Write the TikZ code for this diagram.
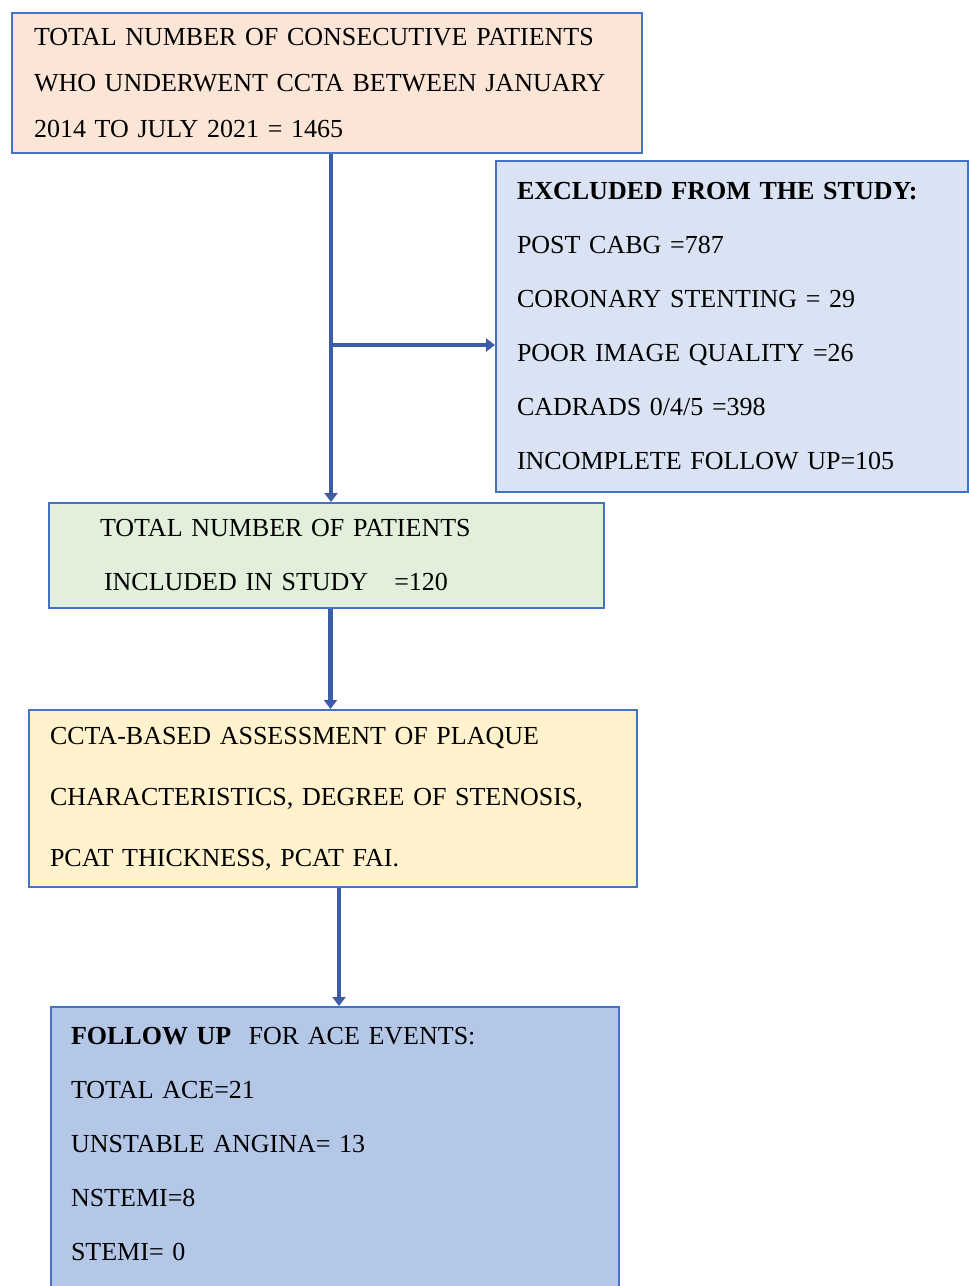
\documentclass[tikz,border=0pt]{standalone}
\usepackage{fontspec}
\setmainfont{Liberation Serif}
\usetikzlibrary{arrows.meta}
\definecolor{boxline}{HTML}{4472C4}
\definecolor{arrowblue}{HTML}{3A5DA6}
\definecolor{peach}{HTML}{FBE5D6}
\definecolor{paleblue}{HTML}{DAE3F3}
\definecolor{palegreen}{HTML}{E2EFDA}
\definecolor{paleyellow}{HTML}{FFF2CC}
\definecolor{midblue}{HTML}{B4C7E7}
\tikzstyle{box} = [rectangle, draw=boxline, line width=1pt, anchor=north west, align=left, inner ysep=2pt, font=\fontsize{13}{27}\selectfont]
\tikzstyle{flow} = [-{Triangle[width=6.5pt,length=4.5pt]}, draw=arrowblue, line width=2.4pt]

\begin{document}
\begin{tikzpicture}[x=1pt,y=1pt]
	\useasboundingbox (0,0) rectangle (484.5,-643);
	\clip (0,0) rectangle (484.5,-643);
	
	\node[box, fill=peach, minimum width=315pt, minimum height=70pt, inner xsep=11pt, text width=293pt, font=\fontsize{13}{23}\selectfont] (total) at (5.5,-6)
		{TOTAL NUMBER OF CONSECUTIVE PATIENTS\\ WHO UNDERWENT CCTA BETWEEN JANUARY\\ 2014 TO JULY 2021 = 1465};
	\node[box, fill=paleblue, minimum width=236pt, minimum height=165.5pt, inner xsep=10.5pt, text width=215pt] (excl) at (247.5,-80)
		{\textbf{EXCLUDED FROM THE STUDY:}\\ POST CABG =787\\ CORONARY STENTING = 29\\ POOR IMAGE QUALITY =26\\ CADRADS 0/4/5 =398\\ INCOMPLETE FOLLOW UP=105};
	\node[box, fill=palegreen, minimum width=277.5pt, minimum height=52.5pt, inner xsep=25.5pt, text width=226.5pt] (incl) at (24,-251)
		{TOTAL NUMBER OF PATIENTS\\ \hspace*{2pt}INCLUDED IN STUDY \ \ =120};
	\node[box, fill=paleyellow, minimum width=304pt, minimum height=88.5pt, inner xsep=10.5pt, text width=283pt, font=\fontsize{13}{30.5}\selectfont] (ccta) at (14,-354.5)
		{CCTA-BASED ASSESSMENT OF PLAQUE\\ CHARACTERISTICS, DEGREE OF STENOSIS,\\ PCAT THICKNESS, PCAT FAI.};
	\node[box, fill=midblue, minimum width=284pt, inner xsep=10pt, inner ysep=10pt, text width=264pt] (follow) at (25,-503)
		{\textbf{FOLLOW UP} \ FOR ACE EVENTS:\\ TOTAL ACE=21\\ UNSTABLE ANGINA= 13\\ NSTEMI=8\\ STEMI= 0\\ \mbox{}};
	
	%arrow
	\coordinate (split) at (165,-172.5);
	\draw[flow] ([xshift=2pt]total.south) -- ([xshift=2pt]total.south |- incl.north);
	\draw[flow] (split) -- (split -| excl.west);
	\draw[flow] ([xshift=2pt]incl.south) -- ([xshift=2pt]incl.south |- ccta.north);
	\draw[flow] ([xshift=3pt]ccta.south) -- ([xshift=3pt]ccta.south |- follow.north);
\end{tikzpicture}
\end{document}
